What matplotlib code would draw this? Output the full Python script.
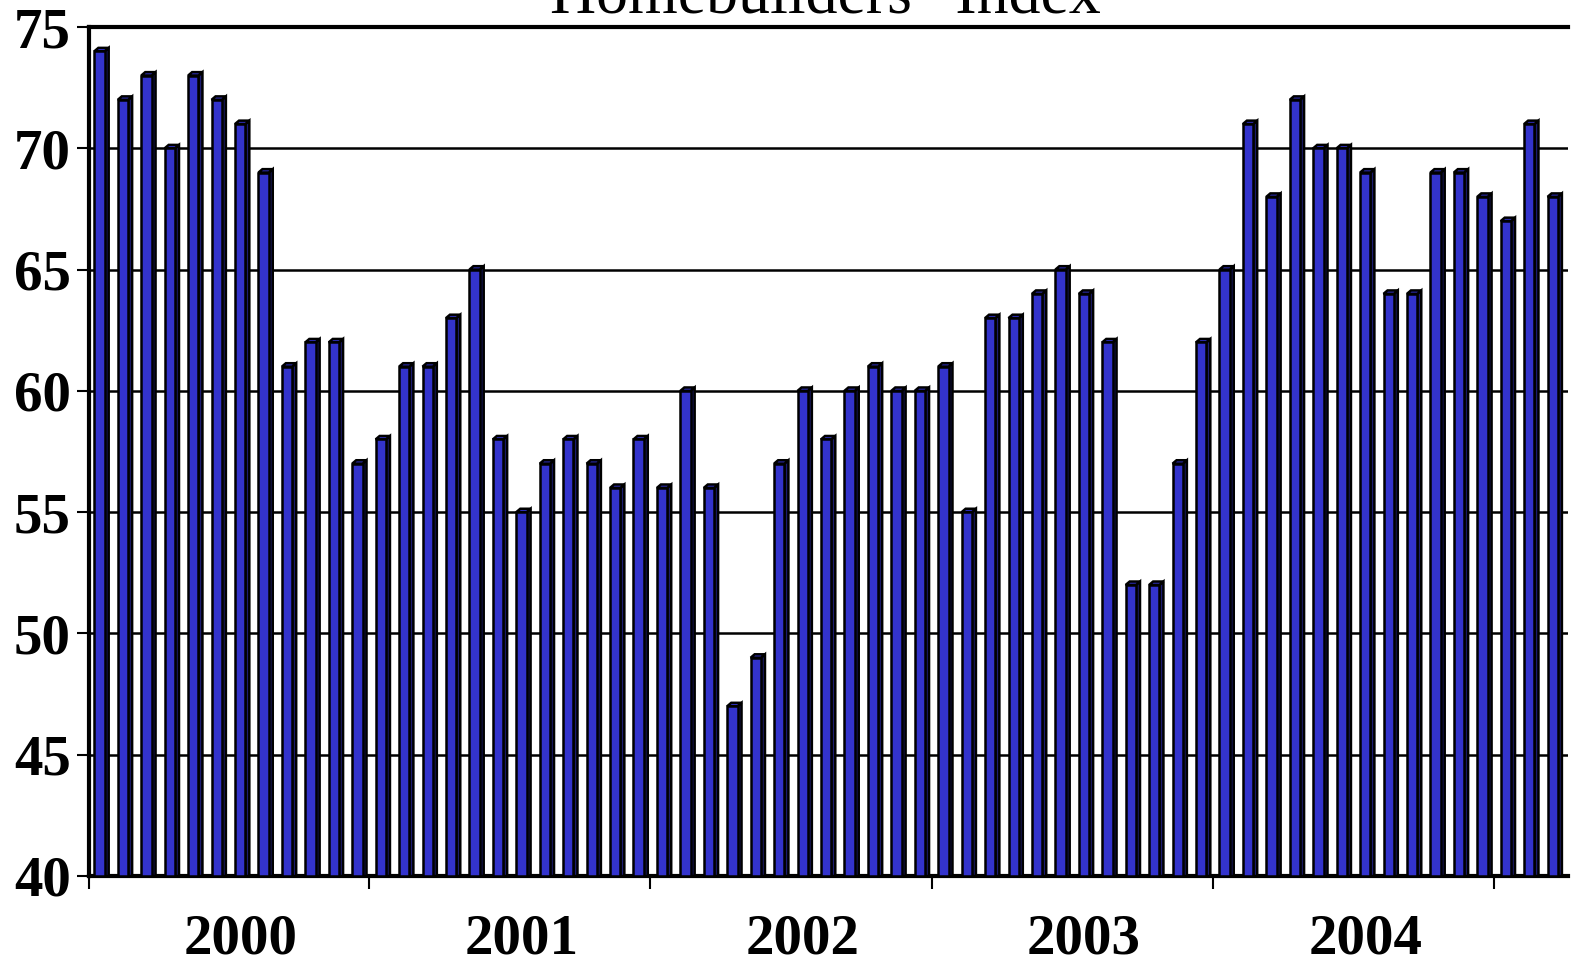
import matplotlib
matplotlib.use("Agg")
import matplotlib.pyplot as plt
from matplotlib.patches import Polygon
import numpy as np

years = ["2000", "2001", "2002", "2003", "2004"]
v2000 = [74, 72, 73, 70, 73, 72, 71, 69, 61, 62, 62, 57]
v2001 = [58, 61, 61, 63, 65, 58, 55, 57, 58, 57, 56, 58]
v2002 = [56, 60, 56, 47, 49, 57, 60, 58, 60, 61, 60, 60]
v2003 = [61, 55, 63, 63, 64, 65, 64, 62, 52, 52, 57, 62]
v2004 = [65, 71, 68, 72, 70, 70, 69, 64, 64, 69, 69, 68]
v2005 = [67, 71, 68]
values = v2000 + v2001 + v2002 + v2003 + v2004 + v2005
yticks = [40, 45, 50, 55, 60, 65, 70, 75]
title = "Homebuilders'  Index"

front = "#3333cc"
side = "#1c1c70"
serif = "Liberation Serif"

W, H = 1571, 965
fig = plt.figure(figsize=(W / 100, H / 100), dpi=100)
ax = fig.add_axes([89 / W, (H - 876) / H, (1568 - 89) / W, (876 - 27) / H])

n = len(values)
x = np.arange(n)
w = 0.44
dx = 0.17
dy = 0.14
base = 40

ax.set_xlim(-0.45, n - 0.35)
ax.set_ylim(40, 75)

for g in yticks[1:-1]:
    ax.axhline(g, color="black", lw=1.8, zorder=1)

ax.bar(x, [v - base for v in values], bottom=base, width=w, color=front,
       edgecolor="black", linewidth=1.8, zorder=3)
for xi, v in zip(x, values):
    l, r = xi - w / 2, xi + w / 2
    sidep = Polygon([(r, base), (r + dx, base), (r + dx, v + dy), (r, v)],
                    closed=True, facecolor=side, edgecolor="black", lw=1.8, zorder=2.9)
    topp = Polygon([(l, v), (l + dx, v + dy), (r + dx, v + dy), (r, v)],
                   closed=True, facecolor=front, edgecolor="black", lw=1.8, zorder=2.9)
    ax.add_patch(sidep)
    ax.add_patch(topp)

for s in ["left", "bottom", "top"]:
    ax.spines[s].set_linewidth(3)
    ax.spines[s].set_color("black")
ax.spines["right"].set_visible(False)
ax.spines["top"].set_zorder(5)

ax.set_yticks(yticks)
ax.set_yticklabels([str(t) for t in yticks], fontfamily=serif, fontweight="bold", fontsize=41)
ax.tick_params(axis="y", length=9, width=1.5, pad=4, direction="out")

bounds = [12 * k - 0.5 for k in range(1, 6)]
ax.set_xticks([-0.45] + bounds)
ax.set_xticklabels([])
ax.tick_params(axis="x", which="major", length=9, width=1.5, direction="out")
ax.set_xticks([6 + 12 * k for k in range(len(years))], minor=True)
ax.set_xticklabels(years, minor=True, fontfamily=serif, fontweight="bold", fontsize=41)
ax.tick_params(axis="x", which="minor", length=0, pad=27)

fig.text(825 / W, (H - 14) / H, title, ha="center", va="baseline",
         fontfamily=serif, fontsize=46)

fig.savefig("out.png", dpi=100)
